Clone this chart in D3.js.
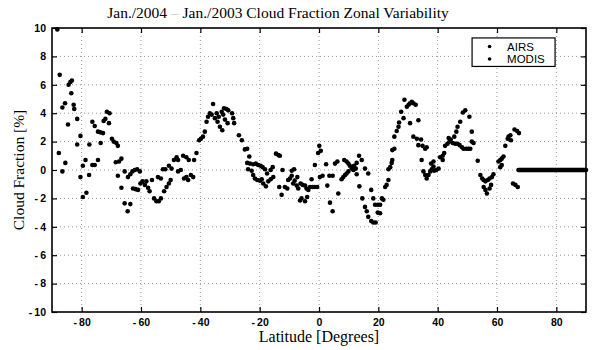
<!DOCTYPE html>
<html>
<head>
<meta charset="utf-8">
<script src="https://cdn.jsdelivr.net/npm/d3@7"></script>
<style>
  body { margin: 0; background: #fff; }
  svg { display: block; }
</style>
</head>
<body>
<div id="chart"></div>
<script>
const width = 602;
const height = 350;
const margins = { top: 28, left: 52, bottom: 38, right: 16 };

const titleParts = ['Jan./2004 ', '\u2013', ' Jan./2003 Cloud Fraction Zonal Variability'];
const xTicks = [-80, -60, -40, -20, 0, 20, 40, 60, 80];
const yTicks = [-10, -8, -6, -4, -2, 0, 2, 4, 6, 8, 10];
const seriesNames = ['AIRS', 'MODIS'];

// [latitude, cloud fraction difference %]
const airs = [
  [-88.2, 9.9], [-87.4, 6.7], [-85.6, 4.7], [-84.4, 6.0], [-83.8, 6.2], [-83.3, 6.3], [-83.5, 5.4],
  [-82.7, 4.6], [-82.5, 4.3], [-81.5, 3.6], [-80.4, 2.4], [-77.4, 1.8], [-76.4, 3.4], [-75.6, 3.1],
  [-74.5, 2.7], [-73.7, 2.65], [-72.8, 2.6], [-72.6, 3.45], [-72.0, 3.6], [-71.5, 4.1], [-70.6, 4.0],
  [-70.8, 3.3], [-69.8, 2.2], [-69.2, 2.0], [-68.3, 1.9], [-67.8, 1.7], [-66.6, 0.8], [-65.5, -0.1],
  [-64.4, -0.5], [-63.6, -0.3], [-62.9, -0.1], [-62.1, 0], [-61.3, 0.05], [-60.4, -0.1], [-60.2, -0.95],
  [-59.5, -0.8], [-58.2, -0.8], [-56.3, -0.7], [-54.3, -0.5], [-53.3, -0.6], [-52.6, 0.05], [-51.8, 0.05],
  [-50.6, 0.3], [-49.7, 0.1], [-48.9, 0.7], [-48.0, 0.9], [-47.5, 0.7], [-45.8, 1.0], [-44.7, 0.9],
  [-43.9, 0.7], [-42.1, 0.7], [-41.3, 1.2], [-40.4, 2.1], [-39.8, 2.2], [-39.1, 2.35], [-38.5, 2.7],
  [-37.9, 3.4], [-37.4, 3.75], [-36.8, 4.0], [-35.7, 4.65], [-34.5, 4.0], [-33.8, 3.75], [-32.8, 4.1],
  [-32.0, 4.35], [-31.2, 4.3], [-30.6, 4.2], [-29.3, 4.0], [-28.9, 3.65], [-28.6, 3.3], [-27.0, 2.45],
  [-26.0, 2.1], [-25.0, 1.45], [-24.2, 1.5], [-23.5, 0.95], [-24.2, 0.5], [-23.3, 0.45], [-22.2, 0.4],
  [-21.3, 0.45], [-20.5, 0.35], [-19.7, 0.3], [-19.0, 0.2], [-18.2, 0.05], [-17.5, -0.25], [-16.3, 0],
  [-15.6, 0.2], [-14.5, 1.15], [-13.7, 1.05], [-13.2, 1.0], [-12.3, 0], [-9.2, -0.05], [-8.4, 0.05],
  [-7.3, -0.5], [-2.5, -0.65], [-1.4, 0.35], [-0.3, 1.2], [0.6, 1.35], [0.1, 1.7], [2.4, 0.4],
  [5.4, 0.45], [6.2, 0.6], [8.5, 0.7], [9.3, 0.6], [9.9, 0.45], [10.4, 0.3], [11.0, 0.1], [11.6, 0],
  [11.8, 0.3], [12.4, 0.1], [12.7, 0.5], [13.5, 1.0], [14.4, 0.7], [15.5, 0.1], [16.6, -0.25],
  [17.6, -1.4], [18.3, -2.0], [18.9, -2.45], [19.8, -2.45], [20.6, -2.45], [21.2, -2.0], [21.7, -2.1],
  [22.3, -1.2], [22.8, -1.05], [23.4, -0.7], [23.4, 0.05], [24.0, 0.2], [24.5, 0.5], [24.7, 0.7],
  [24.7, 1.4], [25.4, 1.5], [25.4, 2.35], [26.2, 2.75], [26.8, 3.05], [27.0, 3.35], [27.7, 4.1],
  [28.8, 4.95], [29.6, 4.45], [30.2, 4.6], [30.7, 4.7], [31.3, 4.8], [31.8, 4.7], [32.6, 4.6],
  [33.5, 3.5], [37.8, 0.45], [38.6, 0.6], [40.8, 0.9], [41.7, 1.0], [42.2, 1.2], [42.5, 1.7], [43.3, 1.85],
  [43.7, 2.25], [45.6, 2.35], [46.3, 2.7], [46.7, 3.05], [47.6, 3.4], [48.5, 4.05], [49.3, 4.2],
  [50.7, 3.75], [51.5, 2.7], [60.5, 0.6], [61.1, 0.7], [61.6, 0.8], [62.2, 0.95], [62.8, 1.7],
  [63.6, 2.2], [64.5, 2.45], [63.9, 2.35], [64.7, 2.1], [65.9, 2.85], [66.8, 2.75], [67.4, 2.6],
  [67.5, 0], [68.0, 0], [68.5, 0], [69.0, 0], [69.5, 0], [70.0, 0], [70.5, 0], [71.0, 0], [71.5, 0],
  [72.0, 0], [72.5, 0], [73.0, 0], [73.5, 0], [74.0, 0], [74.5, 0], [75.0, 0], [75.5, 0], [76.0, 0],
  [76.5, 0], [77.0, 0], [77.5, 0], [78.0, 0], [78.5, 0], [79.0, 0], [79.5, 0], [80.0, 0], [80.5, 0],
  [81.0, 0], [81.5, 0], [82.0, 0], [82.5, 0], [83.0, 0], [83.5, 0], [84.0, 0], [84.5, 0], [85.0, 0],
  [85.5, 0], [86.0, 0], [86.5, 0], [87.0, 0], [87.5, 0], [88.0, 0], [88.5, 0], [89.0, 0], [89.5, 0], [90.0, 0]
];

const modis = [
  [-86.5, 4.4], [-84.6, 3.2], [-87.7, 1.2], [-86.5, -0.1], [-85.5, 0.5], [-81.5, 1.8], [-80.4, -0.5],
  [-79.6, 0.3], [-78.7, 0.7], [-79.6, -1.9], [-78.4, -1.6], [-77.5, -0.35], [-76.4, 0.35], [-75.6, 0.35],
  [-74.5, 0.7], [-73.6, 1.9], [-68.5, 0.55], [-67.4, 0.6], [-67.8, -0.4], [-66.6, -1.25], [-65.5, -2.35],
  [-64.5, -2.9], [-63.6, -2.4], [-62.7, -1.3], [-61.8, -1.35], [-61.0, -1.4], [-58.7, -1.05], [-57.6, -1.25],
  [-57.1, -1.5], [-55.6, -2.0], [-54.8, -2.2], [-54.0, -2.2], [-53.3, -2.0], [-52.2, -1.5], [-51.4, -1.2],
  [-50.6, -0.95], [-50.0, -0.7], [-47.5, -0.1], [-46.6, 0], [-45.5, -0.6], [-44.7, -0.5], [-44.1, -0.7],
  [-43.2, -0.35], [-42.4, -0.5], [-36.2, 3.9], [-35.1, 3.65], [-34.2, 3.4], [-33.4, 3.05], [-32.6, 2.8],
  [-32.3, 3.9], [-31.7, 3.55], [-30.8, 3.3], [-23.9, 0.05], [-22.7, -0.05], [-22.2, -0.35], [-21.6, -0.6],
  [-20.8, -0.7], [-19.9, -0.75], [-19.3, -0.65], [-18.8, -0.95], [-17.9, -1.15], [-17.1, -0.8], [-16.3, -0.65],
  [-15.4, -0.5], [-13.4, -1.2], [-12.6, -1.75], [-11.5, -1.2], [-10.7, -1.3], [-10.4, -0.7], [-9.8, -0.6],
  [-9.2, -0.4], [-8.7, -0.95], [-8.2, -0.75], [-7.5, -1.1], [-7.0, -1.3], [-6.2, -0.95], [-5.5, -1.05],
  [-6.4, -2.15], [-5.9, -2.0], [-4.7, -2.2], [-4.0, -1.9], [-4.7, -1.1], [-4.2, -1.3], [-3.6, -1.4],
  [-3.0, -1.2], [-2.1, -1.2], [-1.4, -1.2], [-0.6, -1.2], [0.3, -0.5], [1.2, -0.4], [2.8, -1.1],
  [3.5, -0.4], [4.6, -0.4], [3.7, -2.3], [4.6, -2.9], [6.5, -1.65], [7.6, -0.65], [8.2, -0.5],
  [8.8, -0.35], [9.3, -0.25], [9.9, -0.1], [12.7, -0.3], [13.6, -1.15], [14.6, -2.0], [15.5, -2.6],
  [16.1, -2.9], [16.6, -3.3], [17.6, -3.6], [18.3, -3.7], [19.1, -3.7], [19.8, -3.0], [20.6, -3.05],
  [28.5, 3.65], [30.7, 3.3], [31.8, 2.35], [33.0, 2.2], [33.5, 1.75], [34.4, 2.15], [34.9, 1.7],
  [35.8, 1.5], [36.3, 1.6], [34.6, 0.7], [35.2, -0.1], [35.8, -0.35], [36.3, -0.6], [36.9, -0.35],
  [37.5, -0.1], [38.0, 0.05], [38.6, 0.25], [38.8, -0.05], [39.5, 0], [40.3, 0.1], [41.7, 0.7],
  [44.0, 2.0], [44.4, 2.15], [45.1, 1.9], [45.9, 1.85], [46.7, 1.85], [47.4, 1.75], [48.2, 1.6],
  [48.7, 1.5], [49.6, 1.5], [50.4, 1.5], [51.0, 1.5], [51.5, 2.0], [52.1, 1.9], [53.5, 0.65],
  [54.4, -0.35], [55.0, -0.6], [55.5, -0.7], [56.1, -0.8], [56.9, -0.7], [57.5, -0.6], [58.3, -0.5],
  [58.8, -0.3], [55.5, -1.2], [56.1, -1.4], [56.6, -1.65], [57.5, -1.3], [58.0, -1.05], [61.1, 0.2],
  [61.6, 0.35], [65.4, -0.95], [66.2, -1.05], [67.0, -1.2],
  [67.25, 0], [67.75, 0], [68.25, 0], [68.75, 0], [69.25, 0], [69.75, 0], [70.25, 0], [70.75, 0],
  [71.25, 0], [71.75, 0], [72.25, 0], [72.75, 0], [73.25, 0], [73.75, 0], [74.25, 0], [74.75, 0],
  [75.25, 0], [75.75, 0], [76.25, 0], [76.75, 0], [77.25, 0], [77.75, 0], [78.25, 0], [78.75, 0],
  [79.25, 0], [79.75, 0], [80.25, 0], [80.75, 0], [81.25, 0], [81.75, 0], [82.25, 0], [82.75, 0],
  [83.25, 0], [83.75, 0], [84.25, 0], [84.75, 0], [85.25, 0], [85.75, 0], [86.25, 0], [86.75, 0],
  [87.25, 0], [87.75, 0], [88.25, 0], [88.75, 0], [89.25, 0], [89.75, 0]
];

const innerW = width - margins.left - margins.right;
const innerH = height - margins.top - margins.bottom;

const svg = d3.select('#chart')
  .append('svg')
  .attr('width', width)
  .attr('height', height);

const g = svg.append('g')
  .attr('transform', `translate(${margins.left},${margins.top})`);

const x = d3.scaleLinear().domain([-90, 90]).range([0, innerW]);
const y = d3.scaleLinear().domain([-10, 10]).range([innerH, 0]);

// old matlab style: "- 80"
const fmt = d => (d < 0 ? '-\u2009' + Math.abs(d) : String(d));

// dotted grid
g.append('g')
  .selectAll('line')
  .data(xTicks)
  .enter()
  .append('line')
  .attr('x1', d => x(d)).attr('x2', d => x(d))
  .attr('y1', 0).attr('y2', innerH)
  .attr('stroke', '#999')
  .attr('stroke-width', 1)
  .attr('stroke-dasharray', '1,3');

g.append('g')
  .selectAll('line')
  .data(yTicks.filter(d => d > -10 && d < 10))
  .enter()
  .append('line')
  .attr('x1', 0).attr('x2', innerW)
  .attr('y1', d => y(d)).attr('y2', d => y(d))
  .attr('stroke', '#999')
  .attr('stroke-width', 1)
  .attr('stroke-dasharray', '1,3');

// axes, ticks pointing inward
const axisStyle = sel => {
  sel.select('.domain').remove();
  sel.selectAll('.tick line').attr('stroke', '#000').attr('stroke-width', 1.2);
  sel.selectAll('text')
    .attr('font-family', '"Liberation Sans", Arial, sans-serif')
    .attr('font-weight', 'bold')
    .attr('font-size', 10.5)
    .attr('fill', '#000');
};

g.append('g')
  .attr('transform', `translate(0,${innerH})`)
  .call(d3.axisBottom(x).tickValues(xTicks).tickFormat(fmt).tickSizeInner(-5).tickSizeOuter(0).tickPadding(7))
  .call(axisStyle);

g.append('g')
  .call(d3.axisLeft(y).tickValues(yTicks).tickFormat(fmt).tickSizeInner(-5).tickSizeOuter(0).tickPadding(6))
  .call(axisStyle);

g.append('g')
  .call(d3.axisTop(x).tickValues(xTicks).tickFormat('').tickSizeInner(-5).tickSizeOuter(0))
  .call(axisStyle);

g.append('g')
  .attr('transform', `translate(${innerW},0)`)
  .call(d3.axisRight(y).tickValues(yTicks).tickFormat('').tickSizeInner(-5).tickSizeOuter(0))
  .call(axisStyle);

// frame
g.append('rect')
  .attr('width', innerW)
  .attr('height', innerH)
  .attr('fill', 'none')
  .attr('stroke', '#000')
  .attr('stroke-width', 1.6);

// data
[airs, modis].forEach(series => {
  g.append('g')
    .selectAll('circle')
    .data(series)
    .enter()
    .append('circle')
    .attr('cx', d => x(d[0]))
    .attr('cy', d => y(d[1]))
    .attr('r', 2.3)
    .attr('fill', '#000');
});

// legend
const legend = g.append('g')
  .attr('transform', `translate(${x(51.6)},${y(9.3)})`);

legend.append('rect')
  .attr('width', 83)
  .attr('height', 28.5)
  .attr('fill', '#fff')
  .attr('stroke', '#000')
  .attr('stroke-width', 1.2);

seriesNames.forEach((name, i) => {
  legend.append('circle')
    .attr('cx', 17.5)
    .attr('cy', 8.5 + i * 12.5)
    .attr('r', 1.8)
    .attr('fill', '#000');
  legend.append('text')
    .attr('x', 35)
    .attr('y', 8.5 + i * 12.5)
    .attr('dy', '0.36em')
    .attr('font-family', '"Liberation Sans", Arial, sans-serif')
    .attr('font-size', 11.5)
    .text(name);
});

// title and labels
const title = svg.append('text')
  .attr('x', 278)
  .attr('y', 18)
  .attr('text-anchor', 'middle')
  .attr('font-family', '"Liberation Serif", "Times New Roman", serif')
  .attr('font-size', 15.5);

title.selectAll('tspan')
  .data(titleParts)
  .enter()
  .append('tspan')
  .attr('fill', (d, i) => (i === 1 ? '#bbb' : '#000'))
  .text(d => d);

svg.append('text')
  .attr('x', margins.left + innerW / 2)
  .attr('y', 342)
  .attr('text-anchor', 'middle')
  .attr('font-family', '"Liberation Serif", "Times New Roman", serif')
  .attr('font-size', 16)
  .text('Latitude [Degrees]');

svg.append('text')
  .attr('transform', `translate(24,${margins.top + innerH / 2}) rotate(-90)`)
  .attr('text-anchor', 'middle')
  .attr('font-family', '"Liberation Serif", "Times New Roman", serif')
  .attr('font-size', 15.5)
  .text('Cloud Fraction [%]');
</script>
</body>
</html>
